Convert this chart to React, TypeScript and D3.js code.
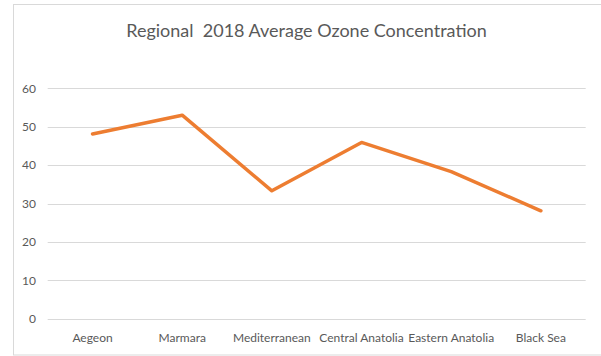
import React from "react";
import * as d3 from "d3";

const regions = [
  "Aegeon",
  "Marmara",
  "Mediterranean",
  "Central Anatolia",
  "Eastern Anatolia",
  "Black Sea",
];
const ozone = [48.1, 53.0, 33.3, 45.9, 38.3, 28.1];
const yTicks = [0, 10, 20, 30, 40, 50, 60];
const title = "Regional  2018 Average Ozone Concentration";

const W = 601;
const H = 356;
const plot = { left: 47.7, right: 585.7, top: 88.3, bottom: 318.7 };
const font = "Lato, 'Open Sans', sans-serif";

export default function App() {
  const x = d3
    .scaleBand<string>()
    .domain(regions)
    .range([plot.left, plot.right]);
  const y = d3.scaleLinear().domain([0, 60]).range([plot.bottom, plot.top]);

  const line = d3
    .line<number>()
    .x((_, i) => (x(regions[i]) as number) + x.bandwidth() / 2)
    .y((d) => y(d));

  return (
    <svg
      width={W}
      height={H}
      style={{ position: "absolute", left: 0, top: 0, background: "#fff" }}
    >
      <rect x={13.5} y={4.5} width={W} height={350.5} fill="#fff" stroke="#d9d9d9" strokeWidth={1} />
      <text
        x={306.5}
        y={37}
        textAnchor="middle"
        fontFamily={font}
        fontSize={18}
        fill="#595959"
        style={{ whiteSpace: "pre" }}
      >
        {title}
      </text>
      {yTicks.map((t) => (
        <g key={t}>
          <line
            x1={plot.left}
            x2={plot.right}
            y1={Math.round(y(t)) + 0.5}
            y2={Math.round(y(t)) + 0.5}
            stroke="#d9d9d9"
            strokeWidth={1}
          />
          <text
            x={36}
            y={y(t)}
            dy="0.35em"
            textAnchor="end"
            fontFamily={font}
            fontSize={12}
            fill="#595959"
          >
            {t}
          </text>
        </g>
      ))}
      {regions.map((r) => (
        <text
          key={r}
          x={(x(r) as number) + x.bandwidth() / 2}
          y={341.5}
          textAnchor="middle"
          fontFamily={font}
          fontSize={12}
          fill="#595959"
        >
          {r}
        </text>
      ))}
      <path
        d={line(ozone) || ""}
        fill="none"
        stroke="#ED7D31"
        strokeWidth={3.5}
        strokeLinejoin="round"
        strokeLinecap="round"
      />
    </svg>
  );
}
